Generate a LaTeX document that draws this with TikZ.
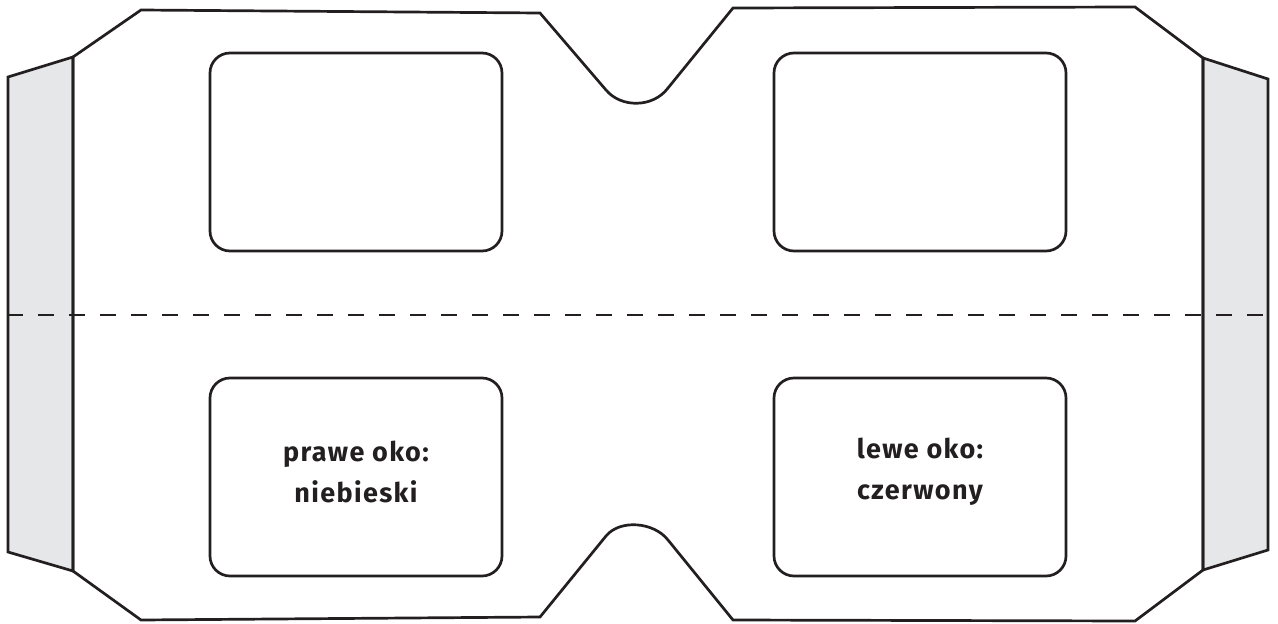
\documentclass[tikz,border=0pt]{standalone}
\usepackage{fontspec}
\setmainfont{Fira Sans}
\newfontfamily\lblfont[LetterSpace=5]{Fira Sans}
\begin{document}
\begin{tikzpicture}[x=1pt,y=-1pt,
  ink/.style={draw=inkc,line width=2.7pt,line join=miter},
  flap/.style={ink,fill=flapc},
  lens/.style={ink,rounded corners=20pt,minimum width=292pt,minimum height=198pt,inner sep=0pt,outer sep=0pt},
  lbl/.style={text=inkc,font=\lblfont\fontsize{27}{41}\selectfont\bfseries,align=center,inner sep=0pt}]
\definecolor{inkc}{HTML}{231F20}
\definecolor{flapc}{HTML}{E6E7E8}
\useasboundingbox (0,0) rectangle (1278,624);
% flaps
\draw[flap] (8,77) -- (73,57) -- (73,571) -- (8,552) -- cycle;
\draw[flap] (1203,58) -- (1268,79) -- (1268,550) -- (1203,570) -- cycle;
% main frame
\draw[ink] (73,57) -- (141,10) -- (540,13) -- (606,90)
  .. controls (621,108) and (653,108) .. (668,88)
  -- (733,8) -- (1135,7) -- (1203,58) -- (1203,570) -- (1135,621) -- (733,620) -- (668,540)
  .. controls (654,522) and (620,519) .. (606,536)
  -- (540,617) -- (141,620) -- (73,571) -- cycle;
% lenses
\node[lens] (tl) at (356,152) {};
\node[lens] (tr) at (920,152) {};
\node[lens] (bl) at (356,477) {};
\node[lens] (br) at (920,477) {};
% fold line
\coordinate (fa) at (7,315);
\coordinate (fb) at (1278,315);
\draw[draw=inkc,line width=2.5pt,dash pattern=on 16pt off 15pt] (fa) -- (fb);
% labels
\node[lbl] (lb) at ([yshift=5pt]bl.center) {prawe oko:\\niebieski};
\node[lbl] (lr) at ([yshift=5pt]br.center) {lewe oko:\\czerwony};
\end{tikzpicture}
\end{document}
